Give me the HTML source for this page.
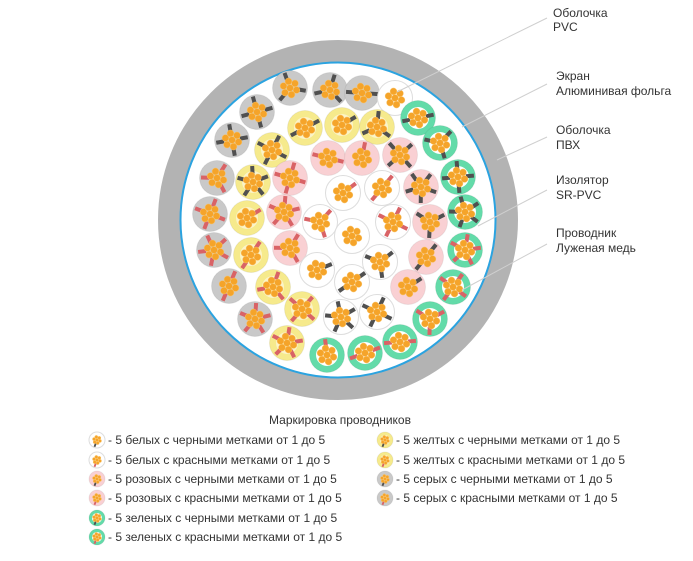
<!DOCTYPE html>
<html><head><meta charset="utf-8"><style>
html,body{margin:0;padding:0;background:#fff;width:693px;height:561px;overflow:hidden}
svg{display:block}
text{font-family:"Liberation Sans",sans-serif;fill:#333}
</style></head><body>
<svg id="s" width="693" height="561" viewBox="0 0 693 561">
<circle cx="338" cy="220" r="169" fill="none" stroke="#b3b3b3" stroke-width="22"/>
<circle cx="338" cy="220" r="157.5" fill="#fff" stroke="#2ba3e0" stroke-width="2"/>
<g id="c"></g>
<g stroke="#cfcfcf" stroke-width="1">
<line x1="547" y1="18" x2="397" y2="92"/>
<line x1="547" y1="84" x2="462" y2="127"/>
<line x1="547" y1="137" x2="497" y2="160"/>
<line x1="547" y1="190" x2="478" y2="226"/>
<line x1="547" y1="244" x2="462" y2="290"/>
</g>
<g font-size="12">
<text x="553" y="17">Оболочка</text><text x="553" y="31">PVC</text>
<text x="556" y="80">Экран</text><text x="556" y="95">Алюминивая фольга</text>
<text x="556" y="134">Оболочка</text><text x="556" y="149">ПВХ</text>
<text x="556" y="184">Изолятор</text><text x="556" y="199">SR-PVC</text>
<text x="556" y="237">Проводник</text><text x="556" y="252">Луженая медь</text>
<text x="340" y="424" text-anchor="middle">Маркировка проводников</text>
<text x="108" y="444">- 5 белых с черными метками от 1 до 5</text>
<text x="108" y="464">- 5 белых с красными метками от 1 до 5</text>
<text x="108" y="483">- 5 розовых с черными метками от 1 до 5</text>
<text x="108" y="502">- 5 розовых с красными метками от 1 до 5</text>
<text x="108" y="522">- 5 зеленых с черными метками от 1 до 5</text>
<text x="108" y="541">- 5 зеленых с красными метками от 1 до 5</text>
<text x="396" y="444">- 5 желтых с черными метками от 1 до 5</text>
<text x="396" y="464">- 5 желтых с красными метками от 1 до 5</text>
<text x="396" y="483">- 5 серых с черными метками от 1 до 5</text>
<text x="396" y="502">- 5 серых с красными метками от 1 до 5</text>
</g>
</svg>
<script>
var C={g:"#c9c9c9",y:"#f6ea8c",p:"#f9d0d3",z:"#63dba9",w:"#fff"};
var M={b:"#505050",r:"#d96366"};
var g=document.getElementById("c"),out="";
function cond(x,y,t,m,n,r,a0){
  r=r||17.5;var k=r/17.5;
  out+='<circle cx="'+x+'" cy="'+y+'" r="'+r+'" fill="'+C[t]+'" stroke="'+(t=="w"?"#ddd":"rgba(0,0,0,0.06)")+'" stroke-width="1"/>';
  if(t=="z")out+='<circle cx="'+x+'" cy="'+y+'" r="'+(11*k)+'" fill="#fff"/>';
  if(t=="y")out+='<circle cx="'+x+'" cy="'+y+'" r="'+(11*k)+'" fill="#fbf4c8"/>';
  for(var i=0;i<n;i++){var a=(a0||0)+i*360/Math.max(n,1)+ (n==2?40:0);
    out+='<rect x="'+(x-2*k)+'" y="'+(y-r+1.5*k)+'" width="'+(4*k)+'" height="'+(8*k)+'" fill="'+M[m]+'" transform="rotate('+a+' '+x+' '+y+')"/>';}
  var pts=[[0,0]];for(var j=0;j<6;j++){var b=j*Math.PI/3+0.3;pts.push([6.8*Math.cos(b),6.8*Math.sin(b)]);}
  pts.forEach(function(p){out+='<circle cx="'+(x+p[0]*k)+'" cy="'+(y+p[1]*k)+'" r="'+(3.4*k)+'" fill="#f5a42a" stroke="#f9c46a" stroke-width="0.5"/>';});
}
var L=[[290,88,"g","b",3],[330,90,"g","b",3],[362,93,"g","b",2],[395,98,"w","b",0],[418,118,"z","b",2],
[257,112,"g","b",4],[305,128,"y","b",2],[342,125,"y","b",1],[377,127,"y","b",3],[440,143,"z","b",3],
[232,140,"g","b",4],[272,150,"y","b",4],[328,158,"p","r",2],[362,158,"p","r",1],[400,155,"p","b",4],[458,177,"z","b",4],
[217,178,"g","r",3],[253,182,"y","b",5],[290,178,"p","r",4],[343,193,"w","r",1],[382,188,"w","r",2],[421,187,"p","b",5],[465,212,"z","b",5],
[210,214,"g","r",4],[247,218,"y","r",1],[284,212,"p","r",5],[320,222,"w","r",3],[352,236,"w","r",0],[393,222,"w","r",4],[430,222,"p","b",3],[465,250,"z","r",5],
[214,250,"g","r",5],[251,255,"y","r",2],[290,248,"p","r",3],[317,270,"w","b",1],[352,282,"w","b",2],[380,262,"w","b",3],[426,257,"p","b",2],[453,287,"z","r",4],
[229,286,"g","r",2],[273,287,"y","r",3],[408,287,"p","b",1],
[255,319,"g","r",5],[302,309,"y","r",4],[341,317,"w","b",5],[377,312,"w","b",4],[430,319,"z","r",3],
[287,343,"y","r",5],[400,342,"z","r",2],[327,355,"z","r",1],[365,353,"z","r",2]];
L.forEach(function(c,i){cond(c[0],c[1],c[2],c[3],c[4],17.5,(i*37)%90-20);});
var LG=[[97,440,"w","b",1],[97,460,"w","r",1],[97,479,"p","b",1],[97,498,"p","r",1],[97,518,"z","b",1],[97,537,"z","r",1],
[385,440,"y","b",1],[385,460,"y","r",1],[385,479,"g","b",1],[385,498,"g","r",1]];
LG.forEach(function(c){cond(c[0],c[1],c[2],c[3],c[4],8,200);});
g.innerHTML=out;
</script>
</body></html>
